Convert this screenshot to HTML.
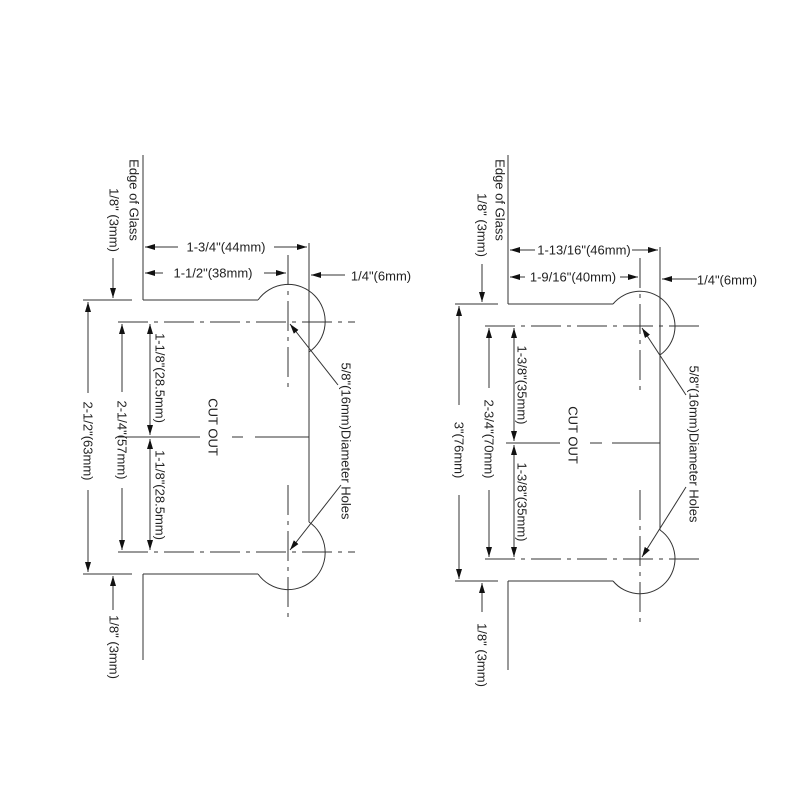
<!DOCTYPE html>
<html><head><meta charset="utf-8"><style>
html,body{margin:0;padding:0;background:#fff;}
svg{display:block;}
text{font-family:"Liberation Sans",sans-serif;font-size:13px;fill:#222;}
</style></head><body>
<svg width="800" height="800" viewBox="0 0 800 800" xmlns="http://www.w3.org/2000/svg">
<defs>
<marker id="a" viewBox="0 0 10 6" refX="10" refY="3" markerWidth="10" markerHeight="6" markerUnits="userSpaceOnUse" orient="auto-start-reverse">
<path d="M0,0 L10,3 L0,6 z" fill="#111"/></marker>
</defs>
<g stroke="#333" stroke-width="1" fill="none">
<!-- LEFT -->
<line x1="143" y1="155" x2="143" y2="300"/>
<line x1="143" y1="574" x2="143" y2="660"/>
<line x1="83" y1="300" x2="132" y2="300"/>
<line x1="83" y1="574" x2="132" y2="574"/>
<line x1="143" y1="300" x2="258" y2="300"/>
<line x1="143" y1="574" x2="258" y2="574"/>
<path d="M258 300 A37 37 0 1 1 309 352"/>
<path d="M258 574 A37 37 0 1 0 309 522"/>
<line x1="309" y1="243" x2="309" y2="522"/>
<g stroke-dasharray="30 6 4 6">
<line x1="118" y1="322" x2="355" y2="322"/>
<line x1="118" y1="552" x2="355" y2="552"/>
<line x1="288" y1="255" x2="288" y2="390"/>
<line x1="288" y1="485" x2="288" y2="620"/>
</g>
<line x1="118" y1="437" x2="200" y2="437"/>
<line x1="232" y1="437" x2="243" y2="437"/>
<line x1="255" y1="437" x2="309" y2="437"/>
<line x1="145" y1="247" x2="178" y2="247" marker-start="url(#a)"/>
<line x1="274" y1="247" x2="307" y2="247" marker-end="url(#a)"/>
<line x1="145" y1="273" x2="163" y2="273" marker-start="url(#a)"/>
<line x1="264" y1="273" x2="286" y2="273" marker-end="url(#a)"/>
<line x1="345" y1="275" x2="311" y2="275" marker-end="url(#a)"/>
<line x1="113" y1="258" x2="113" y2="298" marker-end="url(#a)"/>
<line x1="113" y1="610" x2="113" y2="576" marker-end="url(#a)"/>
<line x1="88" y1="302" x2="88" y2="393" marker-start="url(#a)"/>
<line x1="88" y1="490" x2="88" y2="572" marker-end="url(#a)"/>
<line x1="122" y1="324" x2="122" y2="392" marker-start="url(#a)"/>
<line x1="122" y1="488" x2="122" y2="550" marker-end="url(#a)"/>
<line x1="150" y1="324" x2="150" y2="435" marker-start="url(#a)" marker-end="url(#a)"/>
<line x1="150" y1="439" x2="150" y2="550" marker-start="url(#a)" marker-end="url(#a)"/>
<line x1="338" y1="385" x2="290" y2="324" marker-end="url(#a)"/>
<line x1="341" y1="485" x2="290" y2="550" marker-end="url(#a)"/>

<!-- RIGHT -->
<line x1="508" y1="155" x2="508" y2="304"/>
<line x1="508" y1="581" x2="508" y2="670"/>
<line x1="455" y1="304" x2="498" y2="304"/>
<line x1="455" y1="581" x2="498" y2="581"/>
<line x1="508" y1="304" x2="613" y2="304"/>
<line x1="508" y1="581" x2="613" y2="581"/>
<path d="M613 304 A35 35 0 1 1 660 355"/>
<path d="M613 581 A35 35 0 1 0 660 530"/>
<line x1="660" y1="247" x2="660" y2="530"/>
<g stroke-dasharray="30 6 4 6">
<line x1="485" y1="326" x2="702" y2="326"/>
<line x1="485" y1="559" x2="702" y2="559"/>
<line x1="640" y1="258" x2="640" y2="395"/>
<line x1="640" y1="490" x2="640" y2="625"/>
</g>
<line x1="506" y1="443" x2="560" y2="443"/>
<line x1="590" y1="443" x2="602" y2="443"/>
<line x1="612" y1="443" x2="660" y2="443"/>
<line x1="510" y1="250" x2="535" y2="250" marker-start="url(#a)"/>
<line x1="632" y1="250" x2="658" y2="250" marker-end="url(#a)"/>
<line x1="510" y1="277" x2="525" y2="277" marker-start="url(#a)"/>
<line x1="620" y1="277" x2="638" y2="277" marker-end="url(#a)"/>
<line x1="697" y1="279" x2="662" y2="279" marker-end="url(#a)"/>
<line x1="482" y1="264" x2="482" y2="302" marker-end="url(#a)"/>
<line x1="482" y1="612" x2="482" y2="583" marker-end="url(#a)"/>
<line x1="459" y1="306" x2="459" y2="405" marker-start="url(#a)"/>
<line x1="459" y1="495" x2="459" y2="579" marker-end="url(#a)"/>
<line x1="489" y1="328" x2="489" y2="388" marker-start="url(#a)"/>
<line x1="489" y1="490" x2="489" y2="557" marker-end="url(#a)"/>
<line x1="514" y1="328" x2="514" y2="441" marker-start="url(#a)" marker-end="url(#a)"/>
<line x1="514" y1="445" x2="514" y2="557" marker-start="url(#a)" marker-end="url(#a)"/>
<line x1="686" y1="395" x2="642" y2="328" marker-end="url(#a)"/>
<line x1="686" y1="487" x2="642" y2="557" marker-end="url(#a)"/>
</g>

<g text-anchor="middle" dominant-baseline="central">
<text x="226" y="247">1-3/4"(44mm)</text>
<text x="213" y="273">1-1/2"(38mm)</text>
<text x="381" y="276">1/4"(6mm)</text>
<text transform="translate(134,200) rotate(90)">Edge of Glass</text>
<text transform="translate(114,220) rotate(90)">1/8" (3mm)</text>
<text transform="translate(114,647) rotate(90)">1/8" (3mm)</text>
<text transform="translate(88,441) rotate(90)">2-1/2"(63mm)</text>
<text transform="translate(122,440) rotate(90)">2-1/4"(57mm)</text>
<text transform="translate(160,378) rotate(90)">1-1/8"(28.5mm)</text>
<text transform="translate(160,495) rotate(90)">1-1/8"(28.5mm)</text>
<text transform="translate(213,427) rotate(90)">CUT OUT</text>
<text transform="translate(346,441) rotate(90)">5/8"(16mm)Diameter Holes</text>
<text x="584" y="250">1-13/16"(46mm)</text>
<text x="573" y="277">1-9/16"(40mm)</text>
<text x="727" y="280">1/4"(6mm)</text>
<text transform="translate(500,200) rotate(90)">Edge of Glass</text>
<text transform="translate(482,225) rotate(90)">1/8" (3mm)</text>
<text transform="translate(482,655) rotate(90)">1/8" (3mm)</text>
<text transform="translate(459,450) rotate(90)">3"(76mm)</text>
<text transform="translate(489,439) rotate(90)">2-3/4"(70mm)</text>
<text transform="translate(522,385) rotate(90)">1-3/8"(35mm)</text>
<text transform="translate(522,502) rotate(90)">1-3/8"(35mm)</text>
<text transform="translate(573,435) rotate(90)">CUT OUT</text>
<text transform="translate(694,444) rotate(90)">5/8"(16mm)Diameter Holes</text>
</g>
</svg>
</body></html>
